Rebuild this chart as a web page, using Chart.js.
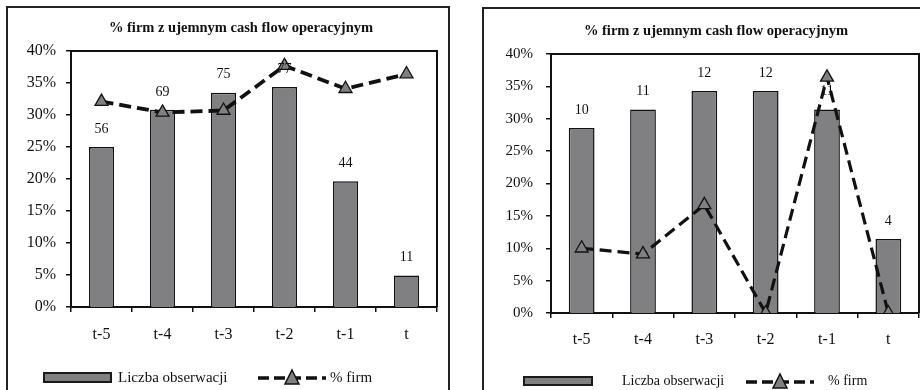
<!DOCTYPE html>
<html lang="pl">
<head>
<meta charset="UTF-8">
<title>% firm z ujemnym cash flow operacyjnym</title>
<script src="https://cdn.jsdelivr.net/npm/chart.js@4.4.1/dist/chart.umd.min.js"></script>
<style>
    body{
        margin: 0;
        width: 920px;
        height: 390px;
        overflow: hidden;
        position: relative;
        background: #fff;
        font-family: "Liberation Serif", "DejaVu Serif", serif;
        color: #111;
    }
    .frame{
        position: absolute;
        border: 2px solid #222;
        border-bottom: none;
        box-sizing: border-box;
    }
    .chartbox{ position: absolute; }
    .lg{ position: absolute; white-space: nowrap; line-height: 1; font-family: "Liberation Serif", serif; }
    .swatch{ position: absolute; background: #808082; border: 2px solid #1a1a1a; box-sizing: border-box; }
</style>
</head>
<body>
    <div class="frame" style="left:6px;top:6px;width:444px;height:390px;"></div>
    <div class="frame" style="left:482px;top:7px;width:470px;height:390px;"></div>

    <div class="chartbox" style="left:8px;top:8px;width:440px;height:382px;"><canvas id="chartA"></canvas></div>
    <div class="chartbox" style="left:484px;top:9px;width:450px;height:381px;"><canvas id="chartB"></canvas></div>

    <!-- legend, left panel -->
    <div class="swatch" style="left:43px;top:372px;width:69px;height:11px;"></div>
    <div class="lg" style="left:118px;top:370px;font-size:15px;">Liczba obserwacji</div>
    <svg class="lg" style="left:256px;top:368px;" width="72" height="18">
        <line x1="2" y1="10" x2="70" y2="10" stroke="#111" stroke-width="3.5" stroke-dasharray="11,5"/>
        <polygon points="36,2 43,16 29,16" fill="#808082" stroke="#111" stroke-width="1.5"/>
    </svg>
    <div class="lg" style="left:330px;top:370px;font-size:15px;">% firm</div>

    <!-- legend, right panel -->
    <div class="swatch" style="left:523px;top:376px;width:70px;height:10px;"></div>
    <div class="lg" style="left:622px;top:374px;font-size:14px;">Liczba obserwacji</div>
    <svg class="lg" style="left:744px;top:372px;" width="72" height="18">
        <line x1="2" y1="10" x2="70" y2="10" stroke="#111" stroke-width="3.5" stroke-dasharray="11,5"/>
        <polygon points="36,2 43,16 29,16" fill="#808082" stroke="#111" stroke-width="1.5"/>
    </svg>
    <div class="lg" style="left:828px;top:374px;font-size:14px;">% firm</div>

<script>
    // data
    var categories = ['t-5', 't-4', 't-3', 't-2', 't-1', 't'];
    var chartTitle = '% firm z ujemnym cash flow operacyjnym';
    var yTicks = [0, 5, 10, 15, 20, 25, 30, 35, 40];

    // left panel
    var countsA = [56, 69, 75, 77, 44, 11];
    var percentA = [32.1, 30.4, 30.7, 37.7, 34.1, 36.4];

    // right panel
    var countsB = [10, 11, 12, 12, 11, 4];
    var percentB = [10, 9.1, 16.7, 0, 36.4, 0];

    var SERIF = '"Liberation Serif", "DejaVu Serif", serif';
    var INK = '#111';
    var BARGRAY = '#808082';

    // title drawn at a fixed centre (the original is not centred on the canvas)
    var panelTitle = {
        id: 'panelTitle',
        afterDraw(chart, args, opts){
            const c = chart.ctx;
            c.save();
            c.font = 'bold 14.5px ' + SERIF;
            c.fillStyle = INK;
            c.textAlign = 'center';
            c.textBaseline = 'middle';
            c.fillText(opts.text, opts.x, opts.y);
            c.restore();
        }
    };

    // frame around the plot area (top + right)
    var plotFrame = {
        id: 'plotFrame',
        beforeDatasetsDraw(chart){
            const a = chart.chartArea, c = chart.ctx;
            c.save();
            c.strokeStyle = INK;
            c.lineWidth = 2;
            c.beginPath();
            c.moveTo(a.left, a.top);
            c.lineTo(a.right, a.top);
            c.lineTo(a.right, a.bottom);
            c.stroke();
            c.restore();
        }
    };

    // count labels above bars
    var countLabels = {
        id: 'countLabels',
        afterDatasetsDraw(chart, args, opts){
            const meta = chart.getDatasetMeta(1);
            const data = chart.data.datasets[1].data;
            const c = chart.ctx;
            c.save();
            c.font = opts.size + 'px ' + SERIF;
            c.fillStyle = INK;
            c.textAlign = 'center';
            c.textBaseline = 'middle';
            meta.data.forEach((bar, i) => {
                c.fillText(String(data[i]), bar.x, bar.y - opts.offset);
            });
            c.restore();
        }
    };

    function makeChart(id, counts, percent, cfg){
        const ctx = document.getElementById(id).getContext('2d');
        return new Chart(ctx, {
            data: {
                labels: categories,
                datasets: [{
                    type: 'line',
                    label: '% firm',
                    data: percent,
                    yAxisID: 'y',
                    order: 0,
                    borderColor: INK,
                    borderWidth: cfg.lineWidth,
                    borderDash: [12, 6],
                    tension: 0,
                    pointStyle: 'triangle',
                    pointRadius: 7.5,
                    pointBackgroundColor: BARGRAY,
                    pointBorderColor: INK,
                    pointBorderWidth: 1.3
                }, {
                    type: 'bar',
                    label: 'Liczba obserwacji',
                    data: counts,
                    yAxisID: 'yCount',
                    order: 1,
                    backgroundColor: BARGRAY,
                    borderColor: INK,
                    borderWidth: 1.5,
                    categoryPercentage: 1,
                    barPercentage: cfg.barPct
                }]
            },
            options: {
                responsive: true,
                maintainAspectRatio: false,
                animation: false,
                layout: { padding: { left: 0, right: cfg.padRight, top: cfg.padTop, bottom: 0 } },
                plugins: {
                    legend: { display: false },
                    tooltip: { enabled: false },
                    title: { display: false },
                    panelTitle: { text: chartTitle, x: cfg.titleX, y: cfg.titleY },
                    countLabels: { size: 14, offset: 18 }
                },
                scales: {
                    x: {
                        grid: { display: true, drawOnChartArea: false, tickLength: 5, color: INK, lineWidth: 1.5, offset: true },
                        border: { color: INK, width: 2 },
                        ticks: { color: INK, font: { family: SERIF, size: 16 }, padding: cfg.xPad },
                        afterFit(scale){ scale.height = cfg.xHeight; }
                    },
                    y: {
                        position: 'left',
                        min: 0,
                        max: 40,
                        afterBuildTicks(scale){ scale.ticks = yTicks.map(v => ({ value: v })); },
                        grid: { display: true, drawOnChartArea: false, tickLength: 5, color: INK, lineWidth: 1.5 },
                        border: { color: INK, width: 2 },
                        ticks: {
                            color: INK,
                            font: { family: SERIF, size: cfg.yFont },
                            padding: cfg.yPad,
                            callback: v => v + '%'
                        },
                        afterFit(scale){ scale.width = cfg.yWidth; }
                    },
                    yCount: {
                        display: false,
                        min: 0,
                        max: cfg.countMax
                    }
                }
            },
            plugins: [plotFrame, countLabels, panelTitle]
        });
    }

    document.addEventListener('DOMContentLoaded', function(){
        makeChart('chartA', countsA, percentA, {
            countMax: 89.6, barPct: 0.41, lineWidth: 3.8,
            padRight: 11, padTop: 43, titleX: 233, titleY: 20,
            xHeight: 83, xPad: 13, yWidth: 63, yPad: 10, yFont: 16
        });
        makeChart('chartB', countsB, percentB, {
            countMax: 14, barPct: 0.42, lineWidth: 3.2,
            padRight: 15, padTop: 45, titleX: 232, titleY: 22.5,
            xHeight: 77, xPad: 12, yWidth: 67, yPad: 13, yFont: 15
        });
    });
</script>
</body>
</html>
